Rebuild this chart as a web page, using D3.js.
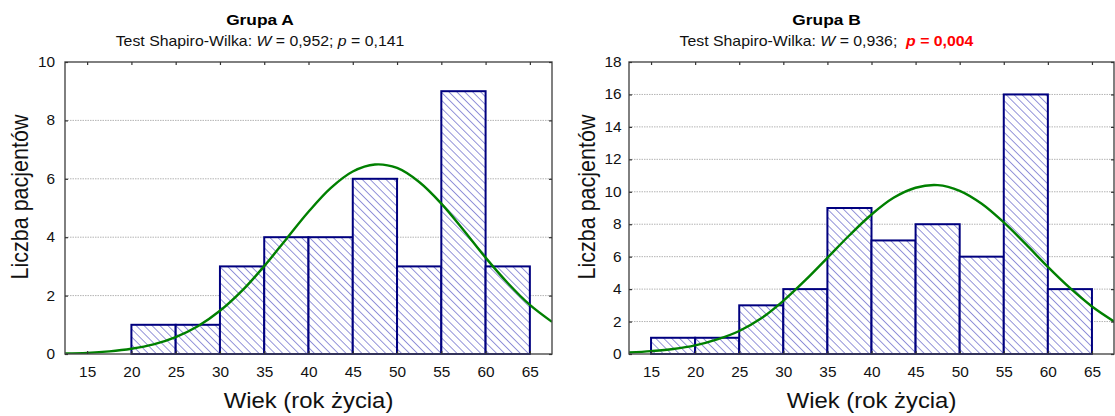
<!DOCTYPE html>
<html>
<head>
<meta charset="utf-8">
<script src="https://cdn.jsdelivr.net/npm/d3@7"></script>
<style>
  html, body { margin: 0; padding: 0; background: #fff; }
  svg { display: block; font-family: "Liberation Sans", Arial, Helvetica, sans-serif; }
</style>
</head>
<body>
<svg id="chart" width="1115" height="416"></svg>
<script>
// ---- data ----
const binWidth = 5;
const binStartsA = [20, 25, 30, 35, 40, 45, 50, 55, 60];
const countsA    = [1, 1, 3, 4, 4, 6, 3, 9, 3];
const binStartsB = [15, 20, 25, 30, 35, 40, 45, 50, 55, 60];
const countsB    = [1, 1, 3, 4, 9, 7, 8, 6, 16, 4];

// fitted normal curve
const curveX = [12.5, 15, 17.5, 20, 22.5, 25, 27.5, 30, 32.5, 35, 37.5, 40, 42.5, 45, 47.5, 50, 52.5, 55, 57.5, 60, 62.5, 65, 67.5];
const curveA = [0.02, 0.04, 0.09, 0.18, 0.33, 0.58, 0.95, 1.48, 2.17, 3.01, 3.94, 4.87, 5.68, 6.25, 6.49, 6.37, 5.89, 5.15, 4.25, 3.30, 2.43, 1.68, 1.10];
const curveB = [0.09, 0.18, 0.31, 0.53, 0.90, 1.42, 2.20, 3.28, 4.55, 5.93, 7.32, 8.60, 9.63, 10.25, 10.41, 10.06, 9.26, 8.11, 6.77, 5.37, 4.07, 2.93, 2.01];

const xTicks  = [15, 20, 25, 30, 35, 40, 45, 50, 55, 60, 65];
const yTicksA = [0, 2, 4, 6, 8, 10];
const yTicksB = [0, 2, 4, 6, 8, 10, 12, 14, 16, 18];
const xDomain = [12.5, 67.5];

const titles    = ["Grupa A", "Grupa B"];
const wValues   = ["0,952", "0,936"];
const pValues   = ["0,141", "0,004"];
const pSignif   = [false, true];
const xTitle = "Wiek (rok życia)";
const yTitle = "Liczba pacjentów";

// ---- drawing ----
const SX = 1.1; // horizontal glyph stretch seen in the reference
const svg = d3.select("#chart");
const defs = svg.append("defs");
const pat = defs.append("pattern")
  .attr("id", "hatch")
  .attr("patternUnits", "userSpaceOnUse")
  .attr("width", 5.6).attr("height", 5.6)
  .attr("patternTransform", "rotate(-45)");
pat.append("rect").attr("width", 5.6).attr("height", 5.6).attr("fill", "#fff");
pat.append("line").attr("x1", 0).attr("y1", 0).attr("x2", 0).attr("y2", 5.6)
  .attr("stroke", "#5c5cc6").attr("stroke-width", 1.3);

const panels = [
  { x0: 65,  x1: 552,  y0: 62, y1: 354, starts: binStartsA, counts: countsA, curve: curveA, yTicks: yTicksA, yMax: 10, titleX: 260, yLabelX: 28, yPad: 10 },
  { x0: 629, x1: 1114, y0: 62, y1: 354, starts: binStartsB, counts: countsB, curve: curveB, yTicks: yTicksB, yMax: 18, titleX: 826.5, yLabelX: 595, yPad: 7.5 }
];

panels.forEach((p, i) => {
  const x = d3.scaleLinear().domain(xDomain).range([p.x0, p.x1]);
  const y = d3.scaleLinear().domain([0, p.yMax]).range([p.y1, p.y0]);
  const g = svg.append("g");

  defs.append("clipPath").attr("id", "clip" + i)
    .append("rect").attr("x", p.x0).attr("y", p.y0).attr("width", p.x1 - p.x0).attr("height", p.y1 - p.y0);

  // gridlines
  g.append("g").selectAll("line")
    .data(p.yTicks.filter(v => v > 0 && v < p.yMax))
    .join("line")
    .attr("x1", p.x0).attr("x2", p.x1)
    .attr("y1", d => y(d)).attr("y2", d => y(d))
    .attr("stroke", "#b4b4b4").attr("stroke-width", 1)
    .attr("stroke-dasharray", "1.5,1");

  // bars
  const bars = p.starts.map((s, k) => ({ s, c: p.counts[k] }));
  g.append("g").selectAll("rect")
    .data(bars)
    .join("rect")
    .attr("x", d => x(d.s))
    .attr("y", d => y(d.c))
    .attr("width", d => x(d.s + binWidth) - x(d.s))
    .attr("height", d => y(0) - y(d.c))
    .attr("fill", "url(#hatch)")
    .attr("stroke", "#00007f")
    .attr("stroke-width", 2);

  // normal curve
  const line = d3.line()
    .x((d, k) => x(curveX[k]))
    .y(d => y(d))
    .curve(d3.curveCatmullRom);
  g.append("path")
    .attr("clip-path", `url(#clip${i})`)
    .attr("d", line(p.curve))
    .attr("fill", "none")
    .attr("stroke", "#008000")
    .attr("stroke-width", 2.4);

  // frame
  g.append("rect")
    .attr("x", p.x0).attr("y", p.y0)
    .attr("width", p.x1 - p.x0).attr("height", p.y1 - p.y0)
    .attr("fill", "none").attr("stroke", "#4a4a4a").attr("stroke-width", 1.4);

  // axes
  const fontSize = 14;
  const bottom = g.append("g").attr("transform", `translate(0,${p.y1})`)
    .call(d3.axisBottom(x).tickValues(xTicks).tickSize(-3).tickPadding(13).tickFormat(d3.format("d")));
  const left = g.append("g").attr("transform", `translate(${p.x0},0)`)
    .call(d3.axisLeft(y).tickValues(p.yTicks).tickSize(-3).tickPadding(p.yPad).tickFormat(d3.format("d")));
  const top = g.append("g").attr("transform", `translate(0,${p.y0})`)
    .call(d3.axisTop(x).tickValues(xTicks).tickSize(-3).tickFormat(""));
  const right = g.append("g").attr("transform", `translate(${p.x1},0)`)
    .call(d3.axisRight(y).tickValues(p.yTicks).tickSize(-3).tickFormat(""));
  [bottom, left, top, right].forEach(a => {
    a.select(".domain").remove();
    a.selectAll(".tick line").attr("stroke", "#333").attr("stroke-width", 1.2);
    a.selectAll(".tick text").attr("fill", "#111").style("font-size", fontSize + "px")
      .style("font-family", '"Liberation Sans", Arial, sans-serif');
  });
  bottom.selectAll(".tick text").attr("transform", `scale(${SX},1)`);
  left.selectAll(".tick text").attr("x", -p.yPad / SX).attr("transform", `scale(${SX},1)`);

  // axis titles
  g.append("text")
    .attr("transform", `translate(${(p.x0 + p.x1) / 2},408) scale(1.11,1)`)
    .attr("text-anchor", "middle")
    .style("font-size", "21.5px").attr("fill", "#111")
    .text(xTitle);
  g.append("text")
    .attr("transform", `translate(${p.yLabelX},${197}) rotate(-90) scale(1,${SX})`)
    .attr("text-anchor", "middle")
    .style("font-size", "21.5px").attr("fill", "#111")
    .text(yTitle);

  // titles
  g.append("text")
    .attr("transform", `translate(${p.titleX},25) scale(1.12,1)`)
    .attr("text-anchor", "middle")
    .style("font-size", "15.5px").style("font-weight", "bold").attr("fill", "#000")
    .text(titles[i]);
  const st = g.append("text")
    .attr("transform", `translate(${p.titleX},45.5) scale(${SX},1)`)
    .attr("text-anchor", "middle")
    .style("font-size", "14.4px").attr("fill", "#111");
  st.append("tspan").text("Test Shapiro-Wilka: ");
  st.append("tspan").style("font-style", "italic").text("W");
  st.append("tspan").text(" = " + wValues[i] + ";");
  if (pSignif[i]) {
    const red = st.append("tspan").attr("dx", 8).attr("fill", "#ff0000").style("font-weight", "bold");
    red.append("tspan").style("font-style", "italic").text("p");
    red.append("tspan").text(" = " + pValues[i]);
  } else {
    st.append("tspan").text(" ");
    st.append("tspan").style("font-style", "italic").text("p");
    st.append("tspan").text(" = " + pValues[i]);
  }
});
</script>
</body>
</html>
